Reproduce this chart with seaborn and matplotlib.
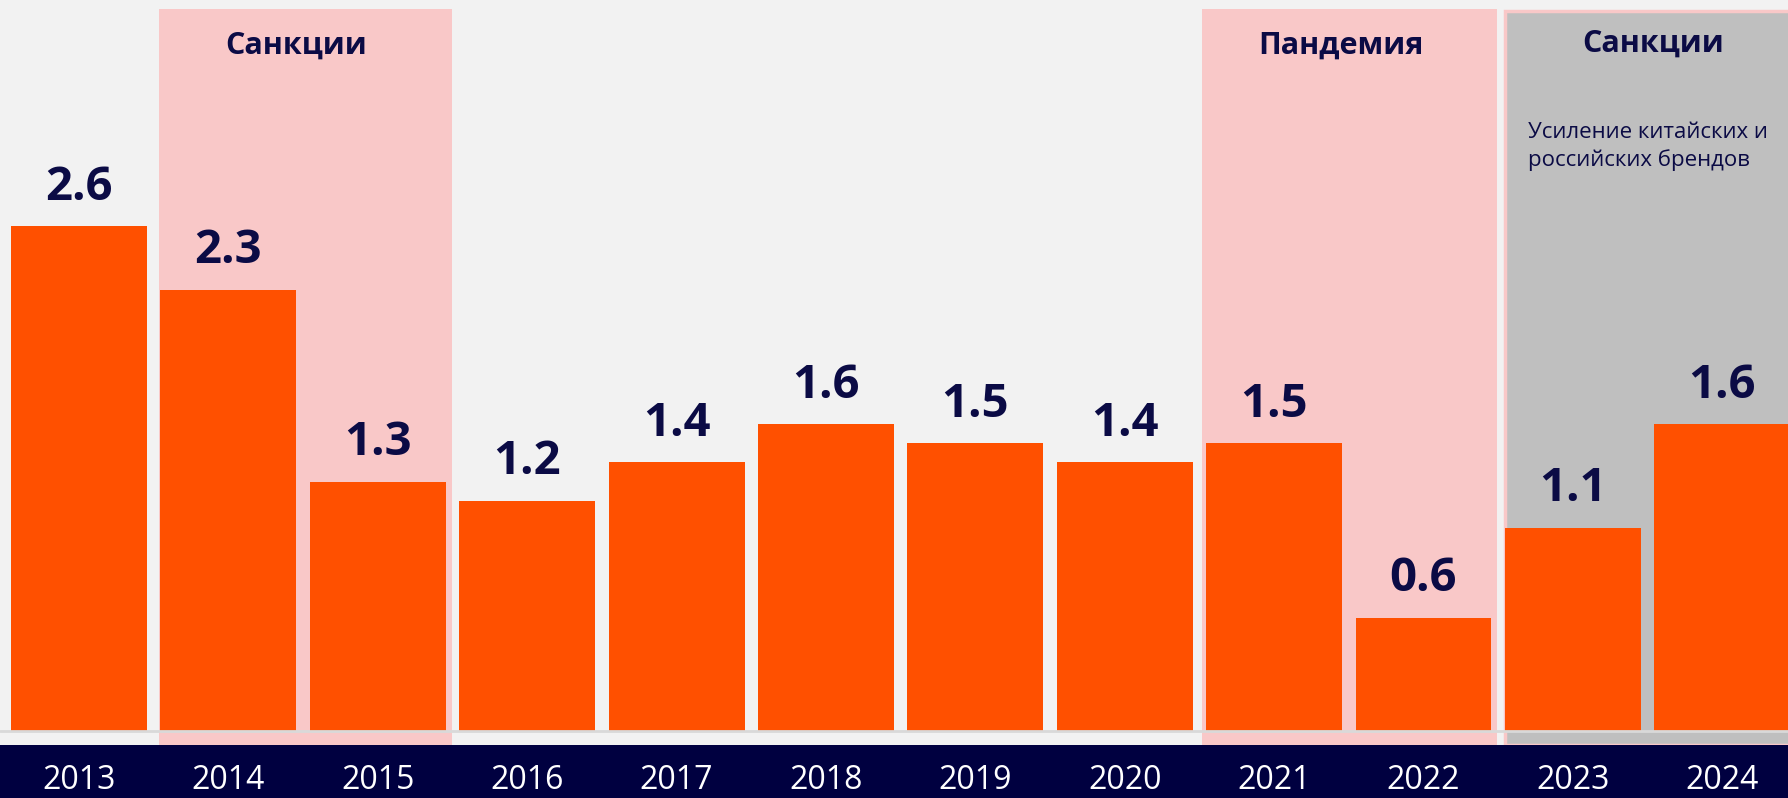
import matplotlib
matplotlib.use("Agg")
import matplotlib.pyplot as plt
import seaborn as sns
import pandas as pd

years = ["2013", "2014", "2015", "2016", "2017", "2018",
         "2019", "2020", "2021", "2022", "2023", "2024"]
values = [2.63, 2.30, 1.30, 1.20, 1.40, 1.60, 1.50, 1.40, 1.50, 0.59, 1.06, 1.60]
labels = ["2.6", "2.3", "1.3", "1.2", "1.4", "1.6", "1.5", "1.4", "1.5", "0.6", "1.1", "1.6"]

NAVY = "#000040"
TEXT = "#0b0b45"
ORANGE = "#ff5000"
PINK = "#f9c8c8"
GREY = "#bfbfbf"
BG = "#f2f2f2"

sns.set_theme(style="white")
plt.rcParams["font.family"] = ["Open Sans", "DejaVu Sans"]

df = pd.DataFrame({"year": years, "value": values})

fig = plt.figure(figsize=(17.88, 7.98), dpi=100, facecolor=NAVY)
ax = fig.add_axes([0, 53 / 798, 1, 745 / 798])
ax.set_facecolor(BG)

# shaded periods
ax.axvspan(0.535, 2.50, ymin=0, ymax=0.988, color=PINK, lw=0, zorder=0)
ax.axvspan(7.52, 9.49, ymin=0, ymax=0.988, color=PINK, lw=0, zorder=0)
ax.axvspan(9.545, 11.6, ymin=0, ymax=0.985, facecolor=GREY, edgecolor=PINK,
           lw=2.5, zorder=0)

sns.barplot(data=df, x="year", y="value", color=ORANGE, saturation=1,
            width=0.91, linewidth=0, edgecolor="none", ax=ax, zorder=2)
ax.axhline(0, color="#d9d9d9", lw=2, zorder=3)

ax.bar_label(ax.containers[0], labels=labels, padding=11, fontsize=34,
             fontweight="bold", color=TEXT)

ax.text(1.45, 3.53, "Санкции", ha="center", va="baseline", fontsize=22,
        fontweight="bold", color=TEXT)
ax.text(8.45, 3.53, "Пандемия", ha="center", va="baseline", fontsize=22,
        fontweight="bold", color=TEXT)
ax.text(10.54, 3.54, "Санкции", ha="center", va="baseline", fontsize=22,
        fontweight="bold", color=TEXT)
ax.text(9.70, 2.944, "Усиление китайских и\nроссийских брендов", ha="left",
        va="baseline", fontsize=16, color=TEXT, linespacing=1.35)

ax.set_xlim(-0.529, 11.44)
ax.set_ylim(-0.073, 3.809)
ax.set_xlabel("")
ax.set_ylabel("")
ax.set_yticks([])
ax.tick_params(axis="x", length=0, pad=14, labelsize=23, labelcolor="white")
for s in ax.spines.values():
    s.set_visible(False)

fig.savefig("out.png", dpi=100, facecolor=NAVY)
